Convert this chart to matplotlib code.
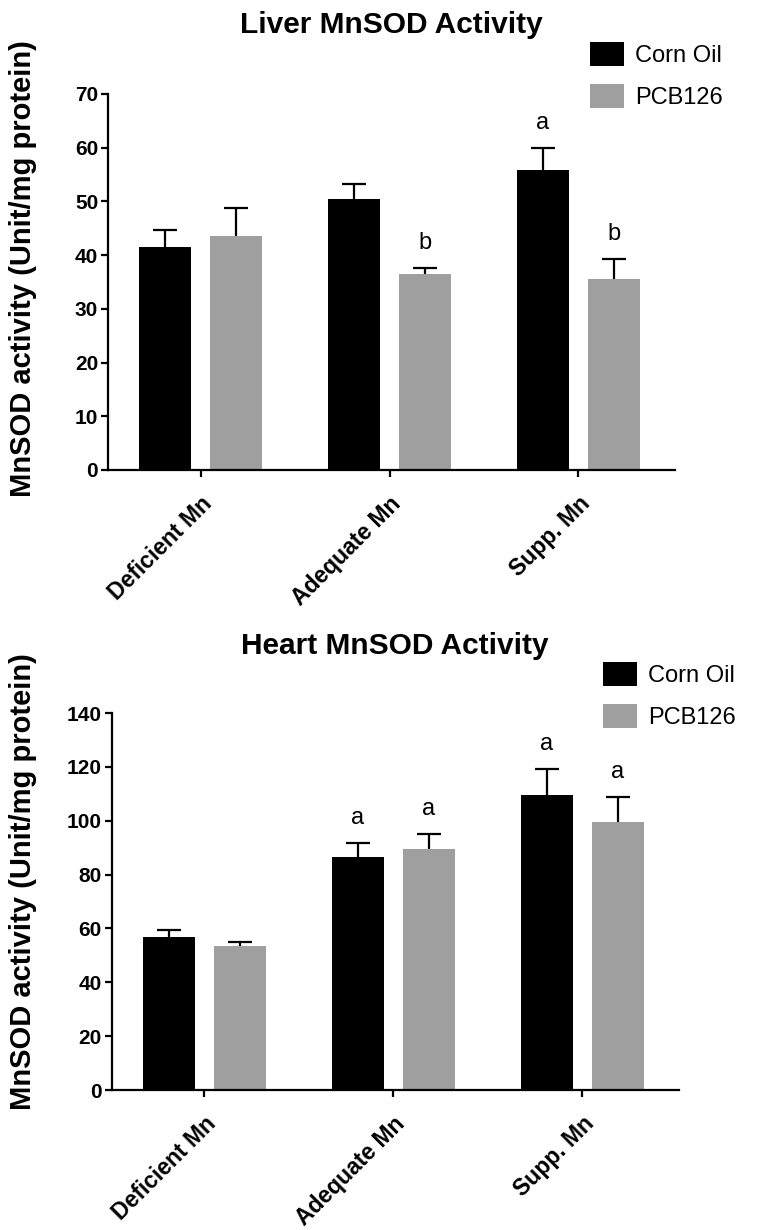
import numpy as np
import matplotlib
matplotlib.use("Agg")
import matplotlib.pyplot as plt
from matplotlib.patches import Patch

plt.rcParams['font.family'] = ['Liberation Sans', 'DejaVu Sans']

# =========================
# Data
# =========================
groups = ["Deficient Mn", "Adequate Mn", "Supp. Mn"]
series_names = ["Corn Oil", "PCB126"]

liver_corn = [41.5, 50.5, 55.9]
liver_corn_err = [3.2, 2.8, 4.0]
liver_pcb = [43.5, 36.5, 35.5]
liver_pcb_err = [5.3, 1.1, 3.8]
liver_corn_sig = ["", "", "a"]
liver_pcb_sig = ["", "b", "b"]

heart_corn = [57.0, 86.6, 109.4]
heart_corn_err = [2.5, 5.3, 9.8]
heart_pcb = [53.4, 89.5, 99.4]
heart_pcb_err = [1.4, 5.5, 9.4]
heart_corn_sig = ["", "a", "a"]
heart_pcb_sig = ["", "a", "a"]

colors = ["#000000", "#9f9f9f"]

fig = plt.figure(figsize=(7.6, 12.3), dpi=100)


def panel(rect, title, title_y, corn, corn_err, pcb, pcb_err, corn_sig, pcb_sig,
          ymax, ystep, ylab_pos, leg_anchor):
    ax = fig.add_axes(rect)
    x = np.arange(len(groups))
    w = 0.275
    off = 0.188
    for vals, errs, sig, c, dx in [(corn, corn_err, corn_sig, colors[0], -off),
                                   (pcb, pcb_err, pcb_sig, colors[1], off)]:
        ax.bar(x + dx, vals, width=w, color=c, zorder=2)
        eb = ax.errorbar(x + dx, vals, yerr=[np.zeros(len(errs)), errs], fmt='none',
                         ecolor='black', elinewidth=1.6, capsize=8.5, capthick=1.6, zorder=3)
        # only the upper cap, as in the original
        for cl in eb[1]:
            if np.allclose(cl.get_ydata(), vals):
                cl.set_visible(False)
        for xi, v, e, s in zip(x + dx, vals, errs, sig):
            if s:
                ax.annotate(s, (xi, v + e), xytext=(0, 10), textcoords='offset points',
                            ha='center', va='bottom', fontsize=17)
    ax.set_xlim(-0.49, 2.51)
    ax.set_ylim(0, ymax)
    ax.set_yticks(np.arange(0, ymax + 1, ystep))
    ax.set_xticks(x)
    ax.set_xticklabels(groups, rotation=45, ha='right', rotation_mode='anchor',
                       fontsize=16.5, fontweight='bold')
    for lab in ax.get_yticklabels():
        lab.set_fontsize(15)
        lab.set_fontweight('bold')
    ax.spines['top'].set_visible(False)
    ax.spines['right'].set_visible(False)
    ax.spines['left'].set_linewidth(1.6)
    ax.spines['bottom'].set_linewidth(1.6)
    ax.tick_params(axis='both', direction='out', length=5, width=1.6, pad=2)
    ax.tick_params(axis='x', pad=11)
    ax.set_ylabel("MnSOD activity (Unit/mg protein)", fontsize=21, fontweight='bold')
    ax.yaxis.set_label_coords(*ylab_pos)
    fig.text(rect[0] + rect[2] / 2, title_y, title, ha='center', va='center',
             fontsize=21.5, fontweight='bold')
    handles = [Patch(facecolor=colors[0]), Patch(facecolor=colors[1])]
    fig.legend(handles, series_names, loc='upper left', bbox_to_anchor=leg_anchor,
               frameon=False, fontsize=17, borderpad=0, borderaxespad=0,
               handlelength=1.45, handleheight=1.2, handletextpad=0.45, labelspacing=0.7)
    return ax


panel([0.142, 0.6179, 0.746, 0.3057], "Liver MnSOD Activity", 1 - 25 / 1230,
      liver_corn, liver_corn_err, liver_pcb, liver_pcb_err, liver_corn_sig, liver_pcb_sig,
      70, 10, (-0.125, 0.537), (590 / 760, 1 - 42 / 1230))

panel([0.147, 0.1138, 0.746, 0.3065], "Heart MnSOD Activity", 1 - 646 / 1230,
      heart_corn, heart_corn_err, heart_pcb, heart_pcb_err, heart_corn_sig, heart_pcb_sig,
      140, 20, (-0.132, 0.552), (603 / 760, 1 - 662 / 1230))

fig.savefig("out.png", dpi=100)
